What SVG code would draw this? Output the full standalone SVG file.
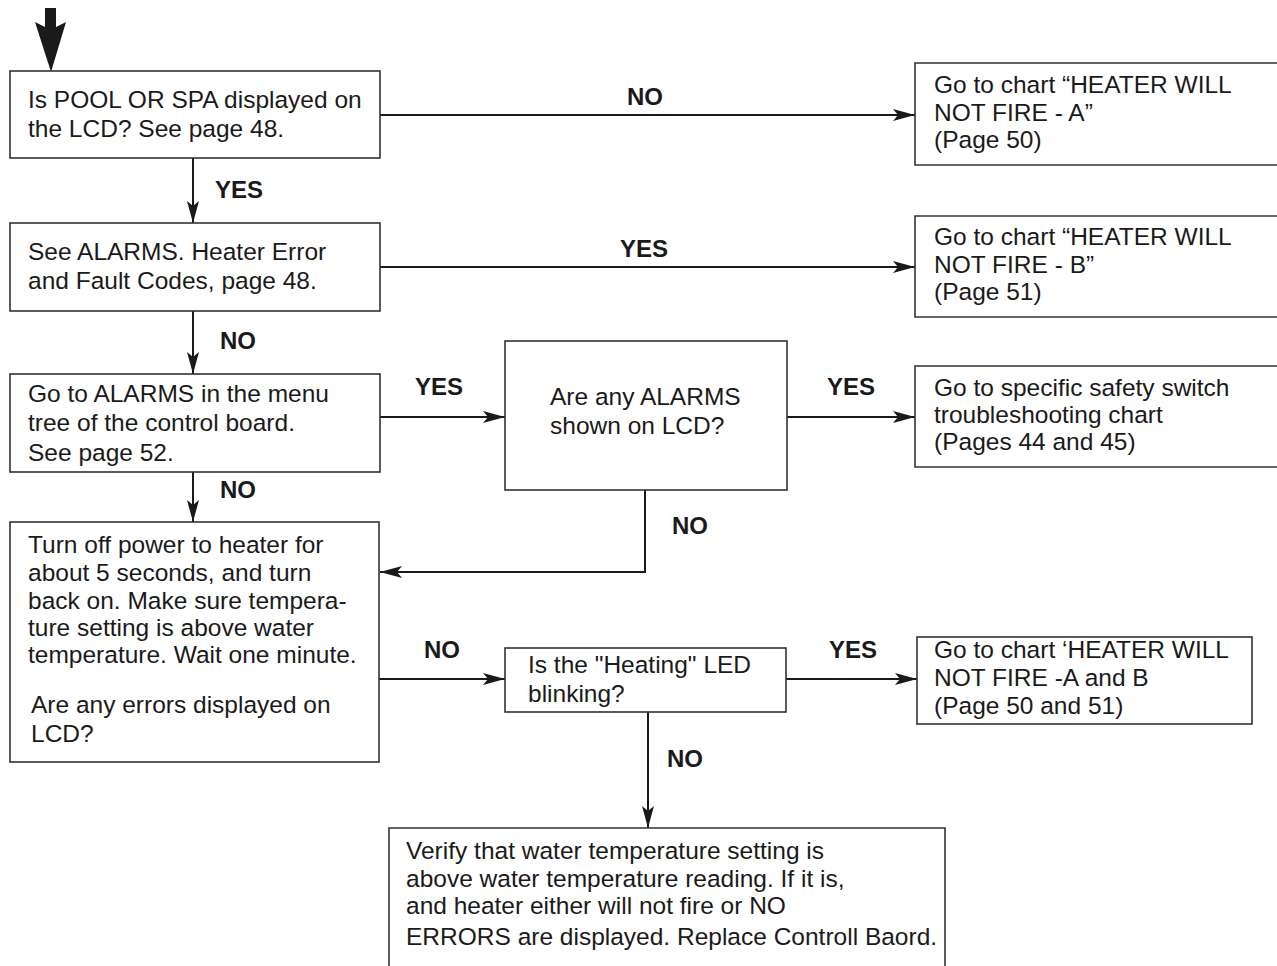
<svg xmlns="http://www.w3.org/2000/svg" width="1277" height="966" viewBox="0 0 1277 966">
<style>
.box{fill:#fff;stroke:#333;stroke-width:1.6}
.t{font-family:"Liberation Sans",Arial,sans-serif;font-size:24.5px;fill:#1a1a1a}
.lb{font-family:"Liberation Sans",Arial,sans-serif;font-size:24px;font-weight:bold;fill:#1a1a1a}
.c{fill:none;stroke:#1a1a1a;stroke-width:2}
</style>
<defs>
<marker id="ah" markerUnits="userSpaceOnUse" markerWidth="24" markerHeight="14" refX="22" refY="6" orient="auto">
<path d="M0,0 L22,6 L0,12 L5,6 z" fill="#1a1a1a"/>
</marker>
</defs>
<rect width="1277" height="966" fill="#fff"/>
<g id="connectors">
<polygon points="45,8 56,8 56,27 66,22 51,72 35,22 45,27" fill="#1a1a1a"/>
<line class="c" x1="380" y1="115" x2="915" y2="115" marker-end="url(#ah)"/>
<line class="c" x1="193" y1="158" x2="193" y2="223" marker-end="url(#ah)"/>
<line class="c" x1="380" y1="267" x2="915" y2="267" marker-end="url(#ah)"/>
<line class="c" x1="193" y1="311" x2="193" y2="374" marker-end="url(#ah)"/>
<line class="c" x1="380" y1="417" x2="505" y2="417" marker-end="url(#ah)"/>
<line class="c" x1="787" y1="417" x2="915" y2="417" marker-end="url(#ah)"/>
<polyline class="c" points="645,490 645,572 380,572" marker-end="url(#ah)"/>
<line class="c" x1="193" y1="472" x2="193" y2="522" marker-end="url(#ah)"/>
<line class="c" x1="379" y1="679" x2="505" y2="679" marker-end="url(#ah)"/>
<line class="c" x1="786" y1="679" x2="917" y2="679" marker-end="url(#ah)"/>
<line class="c" x1="648" y1="712" x2="648" y2="828" marker-end="url(#ah)"/>
<text class="lb" x="627" y="105">NO</text>
<text class="lb" x="215" y="198">YES</text>
<text class="lb" x="620" y="257">YES</text>
<text class="lb" x="220" y="349">NO</text>
<text class="lb" x="415" y="395">YES</text>
<text class="lb" x="827" y="395">YES</text>
<text class="lb" x="672" y="534">NO</text>
<text class="lb" x="220" y="498">NO</text>
<text class="lb" x="424" y="658">NO</text>
<text class="lb" x="829" y="658">YES</text>
<text class="lb" x="667" y="767">NO</text>
</g>
<g id="n1">
<rect class="box" x="10" y="71" width="370" height="87"/>
<text class="t" x="28" y="108">Is POOL OR SPA displayed on</text>
<text class="t" x="28" y="137">the LCD? See page 48.</text>
</g>
<g id="n2">
<path class="box" d="M1277,63 H915 V165 H1277"/>
<text class="t" x="934" y="93">Go to chart “HEATER WILL</text>
<text class="t" x="934" y="121">NOT FIRE - A”</text>
<text class="t" x="934" y="148">(Page 50)</text>
</g>
<g id="n3">
<rect class="box" x="10" y="223" width="370" height="88"/>
<text class="t" x="28" y="260">See ALARMS. Heater Error</text>
<text class="t" x="28" y="289">and Fault Codes, page 48.</text>
</g>
<g id="n4">
<path class="box" d="M1277,216 H915 V317 H1277"/>
<text class="t" x="934" y="245">Go to chart “HEATER WILL</text>
<text class="t" x="934" y="273">NOT FIRE - B”</text>
<text class="t" x="934" y="300">(Page 51)</text>
</g>
<g id="n5">
<rect class="box" x="10" y="374" width="370" height="98"/>
<text class="t" x="28" y="402">Go to ALARMS in the menu</text>
<text class="t" x="28" y="431">tree of the control board.</text>
<text class="t" x="28" y="461">See page 52.</text>
</g>
<g id="n6">
<rect class="box" x="505" y="341" width="282" height="149"/>
<text class="t" x="550" y="405">Are any ALARMS</text>
<text class="t" x="550" y="434">shown on LCD?</text>
</g>
<g id="n7">
<path class="box" d="M1277,366 H915 V467 H1277"/>
<text class="t" x="934" y="396">Go to specific safety switch</text>
<text class="t" x="934" y="423">troubleshooting chart</text>
<text class="t" x="934" y="450">(Pages 44 and 45)</text>
</g>
<g id="n8">
<rect class="box" x="10" y="522" width="369" height="240"/>
<text class="t" x="28" y="553">Turn off power to heater for</text>
<text class="t" x="28" y="581">about 5 seconds, and turn</text>
<text class="t" x="28" y="609">back on. Make sure tempera-</text>
<text class="t" x="28" y="636">ture setting is above water</text>
<text class="t" x="28" y="663">temperature. Wait one minute.</text>
<text class="t" x="31" y="713">Are any errors displayed on</text>
<text class="t" x="31" y="742">LCD?</text>
</g>
<g id="n9">
<rect class="box" x="505" y="648" width="281" height="64"/>
<text class="t" x="528" y="673">Is the "Heating" LED</text>
<text class="t" x="528" y="702">blinking?</text>
</g>
<g id="n10">
<rect class="box" x="917" y="637" width="335" height="87"/>
<text class="t" x="934" y="658">Go to chart ‘HEATER WILL</text>
<text class="t" x="934" y="686">NOT FIRE -A and B</text>
<text class="t" x="934" y="714">(Page 50 and 51)</text>
</g>
<g id="n11">
<path class="box" d="M389,966 V828 H945 V966"/>
<text class="t" x="406" y="859">Verify that water temperature setting is</text>
<text class="t" x="406" y="887">above water temperature reading. If it is,</text>
<text class="t" x="406" y="914">and heater either will not fire or NO</text>
<text class="t" x="406" y="945">ERRORS are displayed. Replace Controll Baord.</text>
</g>
</svg>
